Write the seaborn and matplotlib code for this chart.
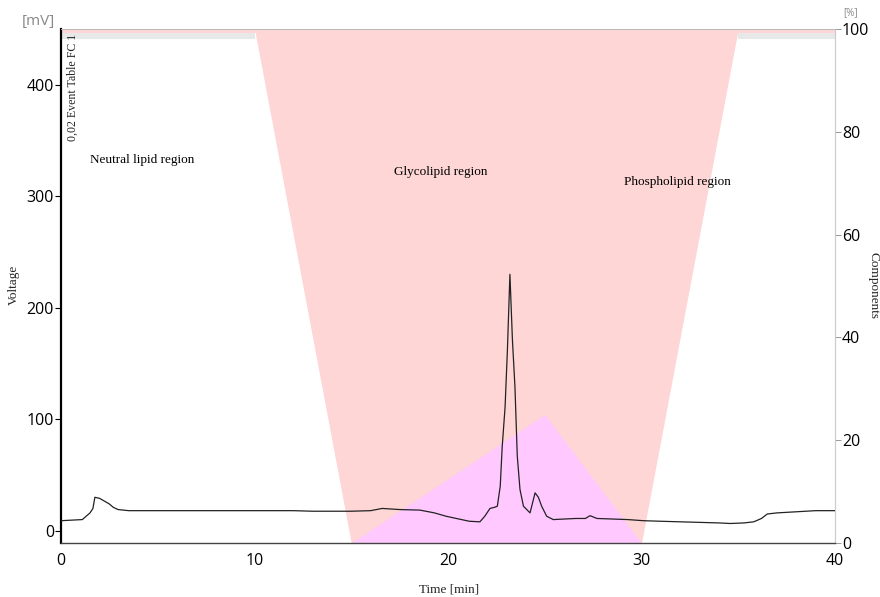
import matplotlib
matplotlib.use("Agg")
import matplotlib.pyplot as plt
import seaborn as sns

# ---- data ----
time_min = [0, 1.1, 1.3, 1.5, 1.65, 1.75, 2.0, 2.3, 2.5, 2.7, 2.95, 3.5, 4, 5, 6, 7, 8, 9,
            10, 11, 12, 13, 14, 15, 16, 16.6, 17.5, 18.55, 19.3, 19.9, 20.3, 21.1, 21.65,
            21.9, 22.17, 22.4, 22.55, 22.7, 22.8, 22.95, 23.07, 23.2, 23.33, 23.46, 23.58,
            23.72, 23.9, 24.24, 24.5, 24.67, 24.84, 25.1, 25.44, 26.0, 26.6, 27.1, 27.34,
            27.7, 28.5, 29.3, 30.1, 31, 32, 33, 34, 34.6, 35.3, 35.8, 36.2, 36.5, 37, 38,
            39, 40]
voltage_mv = [9, 10, 13, 16, 20, 30, 29, 26, 24, 21, 19, 18, 18, 18, 18, 18, 18, 18,
              18, 18, 18, 17.5, 17.5, 17.5, 18, 20, 19, 18.5, 16, 13, 11.5, 8.5, 8,
              13, 20, 21, 22, 40, 75, 111, 162, 230, 171, 129, 67,
              37, 22, 16, 34, 30, 22, 13, 10, 10.5, 11, 11, 13.5,
              11, 10.5, 10, 9, 8.5, 8, 7.5, 7, 6.5, 7, 8, 11, 15, 16, 17,
              18, 18]

# solvent gradient (components, %)
grad_time = [0, 10, 15, 30, 35, 40]
grad_pct = [100, 100, 0, 0, 100, 100]
# second component triangle
tri_time = [15, 25, 30]
tri_pct = [0, 25, 0]

region_labels = ["Neutral lipid region", "Glycolipid region", "Phospholipid region"]
region_x = [1.5, 17.2, 29.1]
region_y = [330, 319, 310]

x_ticks = [0, 10, 20, 30, 40]
left_ticks = [0, 100, 200, 300, 400]
right_ticks = [0, 20, 40, 60, 80, 100]

# ---- figure ----
sns.set_theme(style="white")
plt.rcParams["font.family"] = ["DejaVu Sans"]

fig = plt.figure(figsize=(8.8, 5.97), dpi=100)
ax1 = fig.add_axes([61 / 880, 1 - 543 / 597, (835 - 61) / 880, (543 - 29) / 597])
ax2 = ax1.twinx()
ax1.set_zorder(ax2.get_zorder() + 1)
ax1.patch.set_visible(False)

pink = "#ffd6d6"
magenta = "#ffc8ff"

# gradient fills on right axis
ax2.fill_between(grad_time, grad_pct, 100, color=pink, lw=0, zorder=1)
ax2.fill_between(tri_time, 0, tri_pct, color=magenta, lw=0, zorder=2)
ax2.axhspan(99.2, 100, color=pink, lw=0, zorder=1)
ax2.fill_between([0, 10], 98, 99.2, color="#e8e8e8", lw=0, zorder=1)
ax2.fill_between([35, 40], 98, 99.2, color="#e8e8e8", lw=0, zorder=1)

# trace
sns.lineplot(x=time_min, y=voltage_mv, ax=ax1, color="#222222", lw=0.9, zorder=5)

ax1.set_xlim(0, 40)
ax1.set_ylim(-11, 450)
ax2.set_ylim(0, 100)

tick_font = {"family": "Open Sans", "size": 11.5}
ax1.set_xticks(x_ticks)
ax1.set_xticklabels([str(v) for v in x_ticks], fontdict=tick_font, color="black")
ax1.set_yticks(left_ticks)
ax1.set_yticklabels([str(v) for v in left_ticks], fontdict=tick_font, color="black")
ax2.set_yticks(right_ticks)
ax2.set_yticklabels([str(v) for v in right_ticks], fontdict=tick_font, color="black")

ax1.tick_params(axis="both", direction="out", length=4, width=0.8, colors="black", pad=1)
ax1.tick_params(axis="x", pad=3)
ax2.tick_params(axis="y", direction="out", length=4, width=0.6, colors="#888888",
                labelcolor="black", pad=1)

ax1.spines["left"].set_color("black")
ax1.spines["left"].set_linewidth(1.6)
ax1.spines["bottom"].set_color("#444444")
ax1.spines["bottom"].set_linewidth(1.0)
for a in (ax1, ax2):
    a.spines["right"].set_color("#cccccc")
    a.spines["right"].set_linewidth(0.8)
    a.spines["top"].set_color("#bbbbbb")
    a.spines["top"].set_linewidth(0.6)
ax2.spines["left"].set_visible(False)
ax2.spines["bottom"].set_visible(False)

ax1.set_xlabel("")
ax1.set_ylabel("")

serif = ["Liberation Serif", "DejaVu Serif"]
for lbl, xx, yy in zip(region_labels, region_x, region_y):
    ax1.text(xx, yy, lbl, family=serif, fontsize=9.5, color="black", zorder=6)

fig.text(14 / 880, 1 - 285 / 597, "Voltage", rotation=90, family=serif, fontsize=9.5,
         ha="center", va="center")
fig.text(873 / 880, 1 - 285 / 597, "Components", rotation=-90, family=serif, fontsize=9.5,
         ha="center", va="center")
fig.text(449 / 880, 1 - 590 / 597, "Time [min]", family=serif, fontsize=9.5,
         ha="center", va="center")
fig.text(73 / 880, 1 - 34 / 597, "0,02 Event Table FC 1", rotation=90, family=serif,
         fontsize=8.6, ha="center", va="top")
fig.text(55 / 880, 1 - 22 / 597, "[mV]", family="Open Sans", fontsize=11,
         color="#888888", ha="right", va="center")
fig.text(843 / 880, 1 - 13 / 597, "[%]", family="Open Sans", fontsize=7,
         color="#888888", ha="left", va="center")

fig.savefig("out.png", dpi=100)
